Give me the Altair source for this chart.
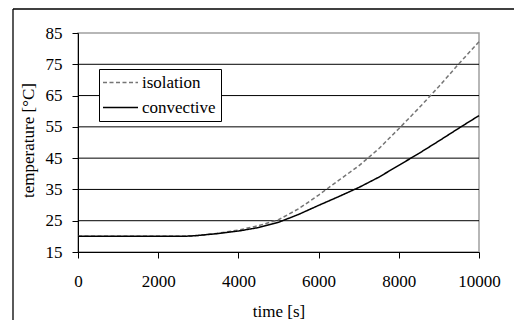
import altair as alt
import pandas as pd

# ---- data ----
time_s = [0, 500, 1000, 1500, 2000, 2500, 2800, 3000, 3500, 4000, 4500, 5000,
          5500, 6000, 6500, 7000, 7500, 8000, 8500, 9000, 9500, 10000]
isolation = [20, 20, 20, 20, 20, 20, 20.1, 20.3, 21.0, 22.0, 23.4, 25.3,
             28.8, 33.2, 37.9, 42.5, 48.0, 54.4, 61.0, 67.9, 75.2, 82.2]
convective = [20, 20, 20, 20, 20, 20, 20.1, 20.3, 20.9, 21.7, 22.8, 24.5,
              27.0, 29.9, 32.7, 35.6, 38.9, 42.7, 46.5, 50.5, 54.6, 58.6]
series_names = ["isolation", "convective"]
x_ticks = [0, 2000, 4000, 6000, 8000, 10000]
y_ticks = [15, 25, 35, 45, 55, 65, 75, 85]
grid_values = [25, 35, 45, 55, 65, 75]

n = len(time_s)
df = pd.DataFrame({
    "time": time_s + time_s,
    "temp": isolation + convective,
    "series": [series_names[0]] * n + [series_names[1]] * n,
})
grid_df = pd.DataFrame({"g": grid_values})
one = pd.DataFrame({"k": [0]})

FONT = "Liberation Serif"
FS = 17

x_scale = alt.Scale(domain=[0, 10000], nice=False, zero=False)
y_scale = alt.Scale(domain=[15, 85], nice=False, zero=False)

y_axis = alt.Axis(
    values=y_ticks, title="temperature [°C]", grid=False,
    tickSize=6, labelPadding=10, labelFlush=False, labelOverlap=False,
    titleX=-45, titleY=107, titleAngle=270, titleAlign="center",
    titleBaseline="alphabetic", titleFont=FONT, labelFont=FONT,
)
x_axis = alt.Axis(
    values=x_ticks, title="time [s]", grid=False,
    tickSize=6, labelPadding=28, labelBaseline="alphabetic",
    labelFlush=False, labelOverlap=False, format="d",
    titleX=200.5, titleY=64, titleAlign="center", titleBaseline="alphabetic",
    titleFont=FONT, labelFont=FONT,
)

grid = alt.Chart(grid_df).mark_rule(color="black", strokeWidth=1).encode(
    y=alt.Y("g:Q", scale=y_scale, axis=y_axis)
)

legend = alt.Legend(
    title=None, orient="none", legendX=21, legendY=36,
    fillColor="white", strokeColor="black", padding=5,
    symbolType="M-1.9,0H5.1", symbolSize=100, symbolStrokeWidth=1.5,
    labelFont=FONT, labelFontSize=FS, labelOffset=21, rowPadding=7,
    labelColor="black",
)

lines = alt.Chart(df).mark_line(strokeWidth=1.5).encode(
    x=alt.X("time:Q", scale=x_scale, axis=x_axis),
    y=alt.Y("temp:Q", scale=y_scale, axis=y_axis),
    color=alt.Color("series:N", scale=alt.Scale(domain=series_names, range=["#757575", "black"]),
                    sort=series_names, legend=legend),
    strokeDash=alt.StrokeDash("series:N", scale=alt.Scale(domain=series_names, range=[[4, 2.5], [1, 0]]),
                              sort=series_names, legend=legend),
)

frame_left = alt.Chart(one).mark_rule(color="black", strokeWidth=1.3).encode(
    x=alt.value(-65), y=alt.value(-24), y2=alt.value(300)
)
frame_top = alt.Chart(one).mark_rule(color="black", strokeWidth=1.3).encode(
    x=alt.value(-65), x2=alt.value(450), y=alt.value(-24)
)

chart = alt.layer(grid, lines, frame_left, frame_top).properties(
    width=401, height=219,
    autosize=alt.AutoSizeParams(type="none"),
    padding={"left": 78, "top": 33, "right": 35, "bottom": 68},
    background="white",
).configure_view(
    stroke="#a0a0a0", strokeWidth=1.5
).configure_axis(
    domainColor="black", domainWidth=1, tickColor="black", tickWidth=1,
    labelFont=FONT, labelFontSize=FS, labelColor="black",
    titleFont=FONT, titleFontSize=FS, titleFontWeight="normal", titleColor="black",
).configure_legend(
    labelFont=FONT, labelFontSize=FS, labelColor="black"
).configure_text(font=FONT)

chart.save("out.html", embed_options={"renderer": "svg", "actions": False})
